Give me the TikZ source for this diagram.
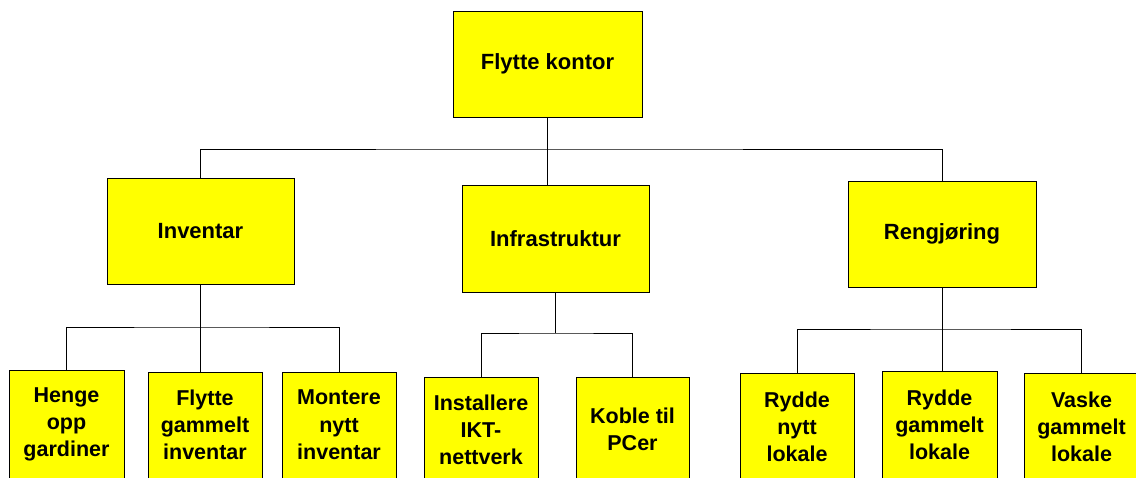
\documentclass[tikz,border=0pt]{standalone}
\usepackage{fontspec}
\setmainfont{Liberation Sans}
\definecolor{boxyellow}{HTML}{FFFF00}
\newcommand\upperfont{\fontsize{22}{27}\selectfont\bfseries}
\newcommand\lowerfont{\fontsize{21.5}{27.3}\selectfont\bfseries}
\tikzset{
  box/.style={draw=black, line width=0.8pt, fill=boxyellow, inner sep=0pt, align=center},
  upperbox/.style={box, font=\upperfont},
  lowerbox/.style={box, font=\lowerfont},
  link/.style={draw=black, line width=0.8pt},
}
\begin{document}
\begin{tikzpicture}[x=1pt, y=-1pt]
\useasboundingbox (0,0) rectangle (1136,477);
\clip (0,0) rectangle (1136,477);
\fill[white] (0,0) rectangle (1136,477);

% project root
\node[upperbox, minimum width=189, minimum height=106] (root) at (547.5,64) {Flytte kontor};

% main areas
\node[upperbox, minimum width=187, minimum height=106] (inv)   at (200.5,231)   {Inventar};
\node[upperbox, minimum width=187, minimum height=107] (infra) at (555.5,238.5) {Infrastruktur};
\node[upperbox, minimum width=188, minimum height=106] (reng)  at (942,234)     {Rengjøring};

% tasks under Inventar
\node[lowerbox, minimum width=115, minimum height=109] (henge)   at (66.5,424.5) {Henge\\opp\\gardiner};
\node[lowerbox, minimum width=114, minimum height=106] (flyttg)  at (205,425)    {Flytte\\gammelt\\inventar};
\node[lowerbox, minimum width=114, minimum height=106] (montere) at (339,425)    {Montere\\nytt\\inventar};

% tasks under Infrastruktur
\node[lowerbox, minimum width=114, minimum height=106] (install) at (481,430)   {Installere\\IKT-\\nettverk};
\node[lowerbox, minimum width=113, minimum height=104] (koble)   at (632.5,429) {Koble til\\PCer};

% tasks under Rengjøring
\node[lowerbox, minimum width=114, minimum height=108] (ryddeny) at (797,427)    {Rydde\\nytt\\lokale};
\node[lowerbox, minimum width=115, minimum height=108] (ryddeg)  at (939.5,425)  {Rydde\\gammelt\\lokale};
\node[lowerbox, minimum width=115, minimum height=108] (vaske)   at (1081.5,427) {Vaske\\gammelt\\lokale};

% connectors from root to main areas
\coordinate (rootbus) at (547.5,149);
\draw[link] (root.south) -- (root.south |- infra.north);
\draw[link] (inv.north) |- (rootbus) -| (reng.north);

% connectors under Inventar
\coordinate (invbus) at (200.5,327);
\draw[link] (inv.south) -- (inv.south |- flyttg.north);
\draw[link] (henge.north) |- (invbus) -| (montere.north);

% connectors under Infrastruktur
\coordinate (infrabus) at (555.5,333);
\draw[link] (infra.south) -- (infrabus);
\draw[link] (install.north) |- (infrabus) -| (koble.north);

% connectors under Rengjøring
\coordinate (rengbus) at (942,329);
\draw[link] (reng.south) -- (reng.south |- ryddeg.north);
\draw[link] (ryddeny.north) |- (rengbus) -| (vaske.north);
\end{tikzpicture}
\end{document}
